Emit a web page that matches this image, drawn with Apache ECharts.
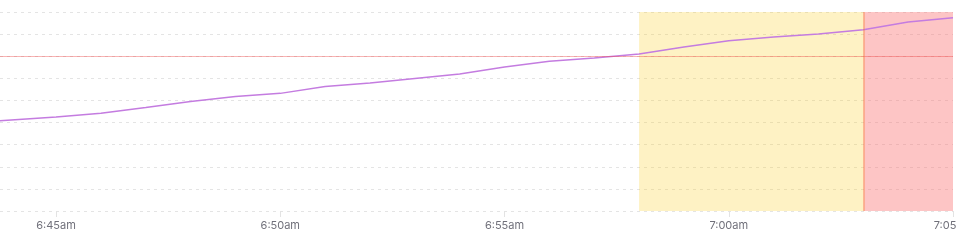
<!DOCTYPE html>
<html>
<head>
<meta charset="utf-8">
<script src="https://cdn.jsdelivr.net/npm/echarts@6/dist/echarts.min.js"></script>
<style>
html,body{margin:0;padding:0;background:#fff;overflow:hidden;}
#wrap{width:957px;height:251px;overflow:hidden;}
#chart{width:1000px;height:251px;}
</style>
</head>
<body>
<div id="wrap"><div id="chart"></div></div>
<script>
// Data
var times = ['6:43','6:44','6:45','6:46','6:47','6:48','6:49','6:50','6:51','6:52','6:53','6:54','6:55','6:56','6:57','6:58','6:59','7:00','7:01','7:02','7:03','7:04','7:05'];
var values = [39.6,41.2,42.5,44.2,46.8,49.5,51.8,53.2,56.3,57.9,59.9,62.0,65.1,67.7,69.2,71.0,74.2,77.0,78.7,80.1,82.0,85.5,87.4];
var tickTimes = ['6:45','6:50','6:55','7:00','7:05'];
var tickLabels = ['6:45am','6:50am','6:55am','7:00am','7:05am'];
var threshold = 70;
var warnStart = '6:58';
var critStart = '7:03';
var critEnd = '7:05';
var viewStart = '6:43:45';
var viewEnd = '7:05';

function toMin(s){
  var p = s.split(':').map(Number);
  return (p[0]*60 + p[1] + (p[2]||0)/60) - (6*60+45);
}
var seriesData = times.map(function(t,i){ return [toMin(t), values[i]]; });
var tickVals = tickTimes.map(toMin);

var chart = echarts.init(document.getElementById('chart'));
chart.setOption({
  animation:false,
  grid:{left:0,right:47,top:12,bottom:40,containLabel:false,outerBoundsMode:'none'},
  xAxis:{
    type:'value',
    min:toMin(viewStart),
    max:toMin(viewEnd),
    splitLine:{show:false},
    axisLine:{show:false},
    axisTick:{show:true,customValues:tickVals,length:6,lineStyle:{color:'#e3e3e3'}},
    axisLabel:{
      customValues:tickVals,
      margin:9,
      fontSize:11,
      fontFamily:'Inter, Roboto, sans-serif',
      color:'#70707a',
      hideOverlap:false,
      showMaxLabel:true,
      formatter:function(v){
        for(var i=0;i<tickVals.length;i++){ if(Math.abs(tickVals[i]-v)<1e-6) return tickLabels[i]; }
        return '';
      }
    }
  },
  yAxis:{
    type:'value',
    min:0,max:90,interval:10,
    axisLabel:{show:false},
    axisLine:{show:false},
    axisTick:{show:false},
    splitLine:{lineStyle:{color:'#e4e4e4',type:[3,4],width:1}}
  },
  series:[{
    type:'line',
    data:seriesData,
    showSymbol:false,
    symbol:'none',
    lineStyle:{color:'#c47ce0',width:1.5},
    markArea:{
      silent:true,
      data:[
        [{xAxis:toMin(warnStart),itemStyle:{color:'rgba(250,204,21,0.25)'}},{xAxis:toMin(critStart)}],
        [{xAxis:toMin(critStart),itemStyle:{color:'rgba(250,110,110,0.4)'}},{xAxis:toMin(critEnd)}]
      ]
    },
    markLine:{
      silent:true,
      symbol:'none',
      label:{show:false},
      data:[
        {yAxis:threshold,lineStyle:{color:'rgba(239,68,68,0.4)',type:'solid',width:1}},
        {xAxis:toMin(critStart),lineStyle:{color:'rgba(249,115,22,0.3)',type:'solid',width:2}}
      ]
    }
  }]
});
</script>
</body>
</html>
